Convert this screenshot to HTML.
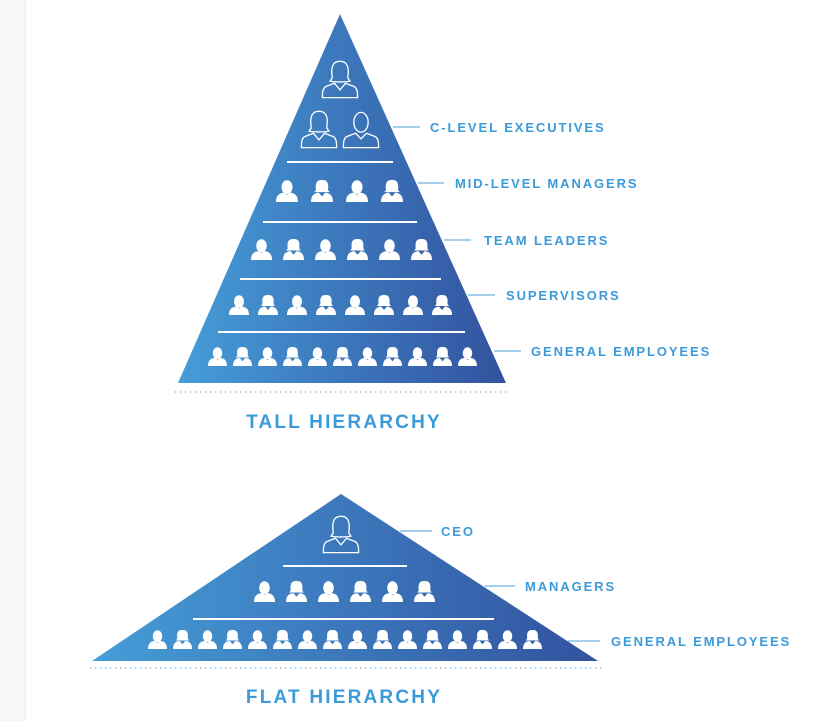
<!DOCTYPE html>
<html><head><meta charset="utf-8"><style>
html,body{margin:0;padding:0;background:#fff;}
svg{display:block}
text{font-family:"Liberation Sans",sans-serif;font-weight:bold;fill:#3b9ad9;}
</style></head><body>
<svg width="813" height="721" viewBox="0 0 813 721" xmlns="http://www.w3.org/2000/svg">
<defs>
<linearGradient id="g1" x1="0" x2="1" y1="0" y2="0"><stop offset="0" stop-color="#469dd8"/><stop offset="1" stop-color="#32529e"/></linearGradient>
<symbol id="m" viewBox="-10 -10 20 20" overflow="visible">
<ellipse cx="0" cy="-3.5" rx="5" ry="6.3" fill="#fff"/>
<path d="M-10,10 C-10,4 -7,2 -3,1.5 L0,3.5 L3,1.5 C7,2 10,4 10,10 Z" fill="#fff"/>
</symbol>
<symbol id="f" viewBox="-10 -10 20 20" overflow="visible">
<path d="M-5.5,-1 C-6.5,-9.5 -3,-10 0,-10 C3,-10 6.5,-9.5 5.5,-1 L7,1 L-7,1 Z" fill="#fff"/>
<path d="M-10,10 C-10,4 -7,2 -3,1.5 L0,5 L3,1.5 C7,2 10,4 10,10 Z" fill="#fff"/>
</symbol>
<symbol id="fo" viewBox="-20 -20 40 40" overflow="visible">
<g fill="none" stroke="#fff" stroke-width="1.2">
<path d="M-7,-2 C-9,-14 -5,-17 0,-17 C5,-17 9,-14 7,-2 L9,1 C5,2 -5,2 -9,1 Z"/>
<path d="M-5,3 L-13,6 C-16,8 -16,12 -16,16 L16,16 C16,12 16,8 13,6 L5,3 L0,9 Z"/>
</g>
</symbol>
<symbol id="mo" viewBox="-20 -20 40 40" overflow="visible">
<g fill="none" stroke="#fff" stroke-width="1.2">
<ellipse cx="0" cy="-7" rx="6.5" ry="9"/>
<path d="M-5,3 L-13,6 C-16,8 -16,12 -16,16 L16,16 C16,12 16,8 13,6 L5,3 L0,8 Z"/>
</g>
</symbol>
</defs>
<rect x="0" y="0" width="25" height="721" fill="#f7f7f7"/>
<line x1="25.5" y1="0" x2="25.5" y2="721" stroke="#ececec"/>

<polygon points="340,14 506,383 178,383" fill="url(#g1)"/>
<g stroke="#fff" stroke-width="2">
<line x1="287" y1="162" x2="393" y2="162"/>
<line x1="263" y1="222" x2="417" y2="222"/>
<line x1="240" y1="279" x2="441" y2="279"/>
<line x1="218" y1="332" x2="465" y2="332"/>
</g>
<use href="#fo" x="318" y="58" width="44" height="44"/>
<use href="#fo" x="297" y="108" width="44" height="44"/>
<use href="#mo" x="339" y="108" width="44" height="44"/>
<use href="#m" x="276" y="180" width="22" height="22"/>
<use href="#f" x="311" y="180" width="22" height="22"/>
<use href="#m" x="346" y="180" width="22" height="22"/>
<use href="#f" x="381" y="180" width="22" height="22"/>

<use href="#m" x="251" y="239" width="21" height="21"/>
<use href="#f" x="283" y="239" width="21" height="21"/>
<use href="#m" x="315" y="239" width="21" height="21"/>
<use href="#f" x="347" y="239" width="21" height="21"/>
<use href="#m" x="379" y="239" width="21" height="21"/>
<use href="#f" x="411" y="239" width="21" height="21"/>

<use href="#m" x="229" y="295" width="20" height="20"/>
<use href="#f" x="258" y="295" width="20" height="20"/>
<use href="#m" x="287" y="295" width="20" height="20"/>
<use href="#f" x="316" y="295" width="20" height="20"/>
<use href="#m" x="345" y="295" width="20" height="20"/>
<use href="#f" x="374" y="295" width="20" height="20"/>
<use href="#m" x="403" y="295" width="20" height="20"/>
<use href="#f" x="432" y="295" width="20" height="20"/>

<use href="#m" x="208" y="347" width="19" height="19"/>
<use href="#f" x="233" y="347" width="19" height="19"/>
<use href="#m" x="258" y="347" width="19" height="19"/>
<use href="#f" x="283" y="347" width="19" height="19"/>
<use href="#m" x="308" y="347" width="19" height="19"/>
<use href="#f" x="333" y="347" width="19" height="19"/>
<use href="#m" x="358" y="347" width="19" height="19"/>
<use href="#f" x="383" y="347" width="19" height="19"/>
<use href="#m" x="408" y="347" width="19" height="19"/>
<use href="#f" x="433" y="347" width="19" height="19"/>
<use href="#m" x="458" y="347" width="19" height="19"/>
<line x1="175" y1="392" x2="510" y2="392" stroke="#6fb2e0" stroke-width="1.3" stroke-dasharray="1.3 3.7"/>
<text x="344" y="428" font-size="19" text-anchor="middle" letter-spacing="2.2">TALL HIERARCHY</text>

<g stroke="#6fb2e0" stroke-width="1.3">
<line x1="393" y1="127" x2="420" y2="127"/>
<line x1="418" y1="183" x2="444" y2="183"/>
<line x1="444" y1="240" x2="471" y2="240"/>
<line x1="468" y1="295" x2="495" y2="295"/>
<line x1="494" y1="351" x2="521" y2="351"/>
<line x1="400" y1="531" x2="432" y2="531"/>
<line x1="485" y1="586" x2="515" y2="586"/>
<line x1="568" y1="641" x2="600" y2="641"/>
</g>
<g font-size="13" letter-spacing="1.9">
<text x="430" y="132">C-LEVEL EXECUTIVES</text>
<text x="455" y="188">MID-LEVEL MANAGERS</text>
<text x="484" y="245">TEAM LEADERS</text>
<text x="506" y="300">SUPERVISORS</text>
<text x="531" y="356">GENERAL EMPLOYEES</text>
<text x="441" y="536">CEO</text>
<text x="525" y="591">MANAGERS</text>
<text x="611" y="646">GENERAL EMPLOYEES</text>
</g>

<polygon points="341,494 598,661 92,661" fill="url(#g1)"/>
<g stroke="#fff" stroke-width="2">
<line x1="283" y1="566" x2="407" y2="566"/>
<line x1="193" y1="619" x2="494" y2="619"/>
</g>
<use href="#fo" x="319" y="513" width="44" height="44"/>
<use href="#m" x="254" y="581" width="21" height="21"/>
<use href="#f" x="286" y="581" width="21" height="21"/>
<use href="#m" x="318" y="581" width="21" height="21"/>
<use href="#f" x="350" y="581" width="21" height="21"/>
<use href="#m" x="382" y="581" width="21" height="21"/>
<use href="#f" x="414" y="581" width="21" height="21"/>
<use href="#m" x="148" y="630" width="19" height="19"/>
<use href="#f" x="173" y="630" width="19" height="19"/>
<use href="#m" x="198" y="630" width="19" height="19"/>
<use href="#f" x="223" y="630" width="19" height="19"/>
<use href="#m" x="248" y="630" width="19" height="19"/>
<use href="#f" x="273" y="630" width="19" height="19"/>
<use href="#m" x="298" y="630" width="19" height="19"/>
<use href="#f" x="323" y="630" width="19" height="19"/>
<use href="#m" x="348" y="630" width="19" height="19"/>
<use href="#f" x="373" y="630" width="19" height="19"/>
<use href="#m" x="398" y="630" width="19" height="19"/>
<use href="#f" x="423" y="630" width="19" height="19"/>
<use href="#m" x="448" y="630" width="19" height="19"/>
<use href="#f" x="473" y="630" width="19" height="19"/>
<use href="#m" x="498" y="630" width="19" height="19"/>
<use href="#f" x="523" y="630" width="19" height="19"/>
<line x1="90" y1="668" x2="603" y2="668" stroke="#6fb2e0" stroke-width="1.3" stroke-dasharray="1.3 3.7"/>
<text x="344" y="703" font-size="19" text-anchor="middle" letter-spacing="2.2">FLAT HIERARCHY</text>
</svg>
</body></html>
